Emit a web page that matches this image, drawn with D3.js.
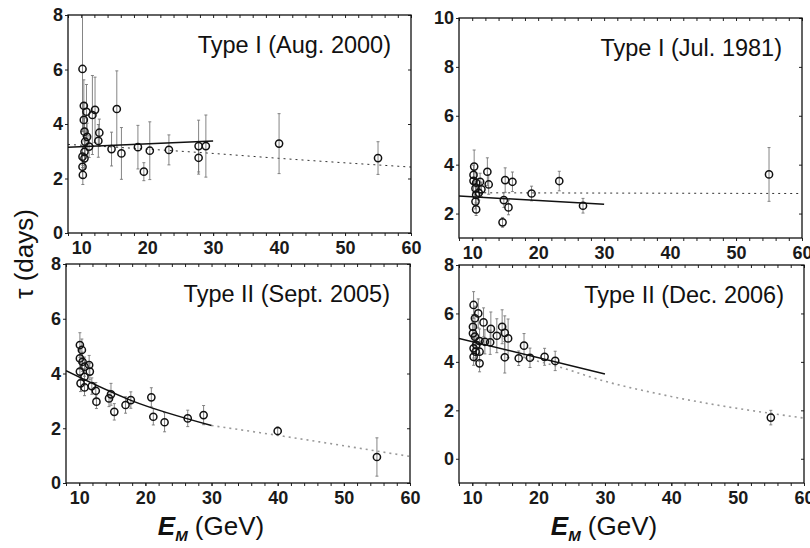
<!DOCTYPE html>
<html>
<head>
<meta charset="utf-8">
<script src="https://cdn.jsdelivr.net/npm/d3@7"></script>
<style>
  html, body { margin: 0; padding: 0; background: #fff; }
  svg { display: block; font-family: "Liberation Sans", Arial, sans-serif; }
  .frame { fill: none; stroke: #111; stroke-width: 1.3; }
  .axis path { display: none; }
  .axis line { stroke: #222; stroke-width: 1; }
  .axis text { font-size: 18px; font-weight: bold; fill: #1a1a1a; }
  .err { stroke: #777; stroke-width: 0.9; }
  .pt { fill: none; stroke: #111; stroke-width: 1.5; }
  .title { font-size: 23.5px; fill: #111; }
  .lab { font-size: 26px; fill: #111; }
</style>
</head>
<body>
<svg id="chart" width="810" height="548"></svg>
<script>
// ─── Data: [E_M (GeV), tau (days), error] ───────────────────────
const aug2000 = [
  [10.2, 6.02, 2.3], [10.4, 4.67, 0.95], [10.8, 4.45, 1.0], [11.7, 4.33, 1.45],
  [12.1, 4.52, 1.2], [10.4, 4.15, 0.6], [10.5, 3.72, 0.5], [12.75, 3.68, 0.5],
  [12.6, 3.38, 0.6], [10.9, 3.53, 0.5], [10.6, 3.35, 0.5], [11.2, 3.17, 0.4],
  [10.5, 2.98, 0.4], [10.2, 2.8, 0.4], [10.5, 2.74, 0.4], [10.2, 2.43, 0.4],
  [10.25, 2.13, 0.35], [15.4, 4.55, 1.4], [14.6, 3.08, 0.62], [16.1, 2.92, 0.95],
  [18.6, 3.15, 0.8], [19.5, 2.25, 0.33], [20.4, 3.02, 1.06], [23.3, 3.05, 0.55],
  [27.8, 3.19, 0.95], [27.8, 2.76, 0.6], [28.9, 3.19, 1.14], [40, 3.28, 1.1],
  [55, 2.75, 0.6]
];
const jul1981 = [
  [10.3, 3.92, 0.68], [10.2, 3.58, 0.4], [10.2, 3.34, 0.4], [10.6, 3.26, 0.4],
  [11.2, 3.3, 0.35], [12.3, 3.71, 0.57], [12.5, 3.19, 0.4], [10.5, 3.03, 0.3],
  [11.4, 2.99, 0.3], [10.6, 2.76, 0.3], [11.0, 2.85, 0.3], [10.5, 2.49, 0.3],
  [10.6, 2.17, 0.25], [15.0, 3.37, 0.5], [16.1, 3.3, 0.4], [14.8, 2.55, 0.3],
  [15.5, 2.25, 0.3], [14.6, 1.64, 0.2], [19.0, 2.82, 0.3], [23.2, 3.33, 0.4],
  [26.8, 2.32, 0.3], [55, 3.6, 1.1]
];
const sept2005 = [
  [10.1, 5.04, 0.45], [10.4, 4.86, 0.4], [10.1, 4.55, 0.4], [10.5, 4.43, 0.35],
  [10.8, 4.25, 0.35], [11.5, 4.31, 0.35], [11.6, 4.07, 0.3], [10.1, 4.07, 0.3],
  [10.8, 3.88, 0.3], [10.2, 3.64, 0.3], [10.8, 3.49, 0.3], [11.9, 3.54, 0.3],
  [12.5, 3.37, 0.3], [12.6, 2.97, 0.25], [14.5, 3.09, 0.3], [14.8, 3.24, 0.4],
  [15.3, 2.6, 0.3], [17.0, 2.85, 0.3], [17.8, 3.03, 0.3], [20.9, 3.13, 0.35],
  [21.2, 2.42, 0.3], [22.9, 2.22, 0.35], [26.4, 2.36, 0.3], [28.8, 2.48, 0.35],
  [40, 1.9, 0.15], [55, 0.95, 0.7]
];
const dec2006 = [
  [10.2, 6.35, 0.55], [10.9, 6.0, 0.6], [10.4, 5.8, 0.5], [11.7, 5.63, 0.6],
  [10.1, 5.45, 0.5], [12.8, 5.36, 0.7], [10.1, 5.18, 0.5], [10.4, 5.04, 0.5],
  [13.7, 5.08, 0.7], [14.5, 5.45, 0.7], [14.9, 5.2, 0.7], [15.4, 4.97, 0.8],
  [11.9, 4.83, 0.5], [12.7, 4.81, 0.5], [11.1, 4.86, 0.5], [10.6, 4.7, 0.4],
  [10.2, 4.56, 0.4], [10.5, 4.42, 0.4], [10.2, 4.21, 0.35], [11.1, 4.42, 0.4],
  [11.1, 3.94, 0.35], [14.9, 4.19, 0.65], [17.8, 4.67, 0.5], [17.0, 4.15, 0.3],
  [18.7, 4.17, 0.4], [20.9, 4.21, 0.35], [22.5, 4.04, 0.4], [55, 1.7, 0.3]
];

// ─── Fit lines: [E_M, tau] ─────────────────────────────────────
const fitAug2000 = [[8, 3.15], [30, 3.38]];
const allAug2000 = [[8, 3.25], [30, 2.92], [40, 2.74], [60, 2.42]];
const fitJul1981 = [[8, 2.72], [30, 2.38]];
const allJul1981 = [[10, 2.85], [60, 2.82]];
const fitSept2005 = [[8, 4.1], [18, 3.0], [30, 2.1]];
const allSept2005 = [[30, 2.1], [40, 1.74], [60, 0.97]];
const fitDec2006 = [[8, 4.97], [30, 3.5]];
const allDec2006 = [[18, 4.15], [22, 3.88], [30, 3.2], [40, 2.57], [60, 1.68]];

// ─── Ticks / labels ────────────────────────────────────────────
const xDomain = [8, 60];
const xMajor = [10, 20, 30, 40, 50, 60];
const xMinor = d3.range(8, 61, 2);
const titles = ["Type I (Aug. 2000)", "Type I (Jul. 1981)", "Type II (Sept. 2005)", "Type II (Dec. 2006)"];

const panels = [
  { title: titles[0], data: aug2000, fit: fitAug2000, all: allAug2000,
    yDomain: [0, 8], yTicks: [0, 2, 4, 6, 8],
    box: { l: 68, t: 15, r: 411, b: 233 }, dot: "#333", dotW: 1, dash: "2,4" },
  { title: titles[1], data: jul1981, fit: fitJul1981, all: allJul1981,
    yDomain: [1, 10], yTicks: [2, 4, 6, 8, 10],
    box: { l: 459, t: 18, r: 802, b: 238 }, dot: "#333", dotW: 1, dash: "2,4" },
  { title: titles[2], data: sept2005, fit: fitSept2005, all: allSept2005,
    yDomain: [0, 8], yTicks: [0, 2, 4, 6, 8],
    box: { l: 66, t: 264, r: 410, b: 483 }, dot: "#999", dotW: 1.6, dash: "2,4" },
  { title: titles[3], data: dec2006, fit: fitDec2006, all: allDec2006,
    yDomain: [-1, 8], yTicks: [0, 2, 4, 6, 8],
    box: { l: 459, t: 265, r: 804, b: 483 }, dot: "#999", dotW: 1.6, dash: "2,4" }
];

const svg = d3.select("#chart");

panels.forEach((p, i) => {
  const { l, t, r, b } = p.box;
  const x = d3.scaleLinear().domain(xDomain).range([l, r]);
  const y = d3.scaleLinear().domain(p.yDomain).range([b, t]);
  const g = svg.append("g");

  const clipId = "clip" + i;
  svg.append("clipPath").attr("id", clipId)
    .append("rect").attr("x", l).attr("y", t).attr("width", r - l).attr("height", b - t);

  // axes
  g.append("g").attr("class", "axis").attr("transform", `translate(0,${b})`)
    .call(d3.axisBottom(x).tickValues(xMinor).tickSize(3).tickFormat(() => ""));
  g.append("g").attr("class", "axis").attr("transform", `translate(0,${b})`)
    .call(d3.axisBottom(x).tickValues(xMajor).tickSize(3).tickPadding(5).tickFormat(d3.format("d")));
  g.append("g").attr("class", "axis").attr("transform", `translate(0,${t})`)
    .call(d3.axisBottom(x).tickValues(xMinor).tickSize(3).tickFormat(() => ""));
  g.append("g").attr("class", "axis").attr("transform", `translate(${l},0)`)
    .call(d3.axisLeft(y).tickValues(p.yTicks).tickSize(3).tickPadding(2).tickFormat(d3.format("d")));
  g.append("g").attr("class", "axis").attr("transform", `translate(${r},0)`)
    .call(d3.axisLeft(y).tickValues(p.yTicks).tickSize(3).tickFormat(() => ""));

  const plot = g.append("g").attr("clip-path", `url(#${clipId})`);
  const line = d3.line().x(d => x(d[0])).y(d => y(d[1])).curve(d3.curveMonotoneX);

  // dotted fit over all energies
  plot.append("path").datum(p.all).attr("d", line)
    .attr("fill", "none").attr("stroke", p.dot)
    .attr("stroke-width", p.dotW).attr("stroke-dasharray", p.dash);

  // error bars
  const eb = plot.append("g").selectAll("g").data(p.data).join("g");
  eb.append("line").attr("class", "err")
    .attr("x1", d => x(d[0])).attr("x2", d => x(d[0]))
    .attr("y1", d => y(d[1] - d[2])).attr("y2", d => y(d[1] + d[2]));
  eb.append("line").attr("class", "err")
    .attr("x1", d => x(d[0]) - 1.5).attr("x2", d => x(d[0]) + 1.5)
    .attr("y1", d => y(d[1] + d[2])).attr("y2", d => y(d[1] + d[2]));
  eb.append("line").attr("class", "err")
    .attr("x1", d => x(d[0]) - 1.5).attr("x2", d => x(d[0]) + 1.5)
    .attr("y1", d => y(d[1] - d[2])).attr("y2", d => y(d[1] - d[2]));

  // solid fit 10-30 GeV
  plot.append("path").datum(p.fit).attr("d", line)
    .attr("fill", "none").attr("stroke", "#111").attr("stroke-width", 1.5);

  // points
  plot.append("g").selectAll("circle").data(p.data).join("circle")
    .attr("class", "pt").attr("r", 3.6)
    .attr("cx", d => x(d[0])).attr("cy", d => y(d[1]));

  g.append("rect").attr("class", "frame")
    .attr("x", l).attr("y", t).attr("width", r - l).attr("height", b - t);

  g.append("text").attr("class", "title")
    .attr("x", r - 20).attr("y", t + 38).attr("text-anchor", "end")
    .text(p.title);
});

// ─── Axis titles ───────────────────────────────────────────────
svg.append("text").attr("class", "lab")
  .attr("transform", "translate(33,254) rotate(-90)")
  .attr("text-anchor", "middle").text("τ (days)");

[211, 604].forEach(cx => {
  const tx = svg.append("text").attr("class", "lab")
    .attr("x", cx).attr("y", 535).attr("text-anchor", "middle");
  tx.append("tspan").attr("font-weight", "bold").attr("font-style", "italic").text("E");
  tx.append("tspan").attr("font-weight", "bold").attr("font-style", "italic")
    .attr("font-size", "15px").attr("dy", 6).text("M");
  tx.append("tspan").attr("dy", -6).text(" (GeV)");
});
</script>
</body>
</html>
